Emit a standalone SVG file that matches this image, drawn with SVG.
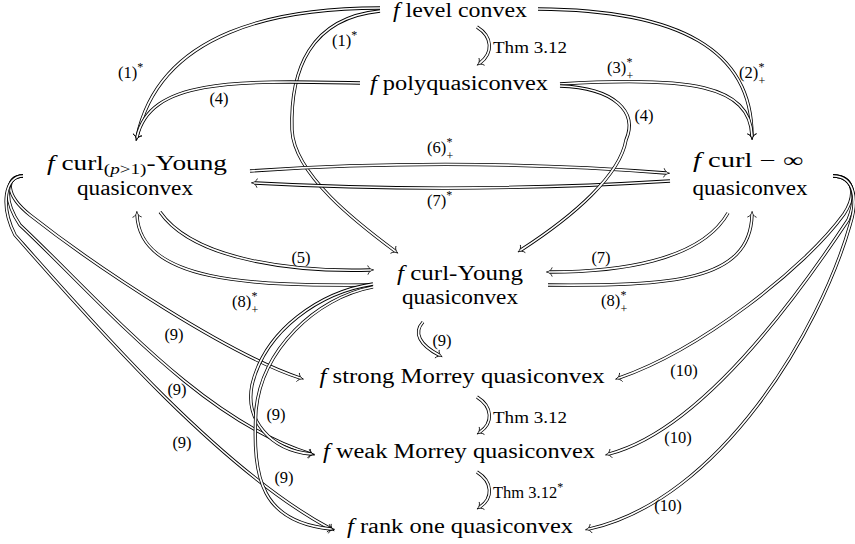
<svg xmlns="http://www.w3.org/2000/svg" xmlns:xlink="http://www.w3.org/1999/xlink" width="855" height="544" viewBox="0 0 855 544">
<style>
.n{font-family:"Liberation Serif","DejaVu Serif",serif;font-size:20px;text-anchor:middle;fill:#000}
.it{font-style:italic}
.l{font-family:"Liberation Serif","DejaVu Serif",serif;font-size:16.5px;fill:#000}
.lm{text-anchor:middle}
.s{font-family:"Liberation Serif","DejaVu Serif",serif;font-size:12px;fill:#000}
.o{fill:none;stroke:#000;stroke-width:3.3;marker-end:url(#ah)}
.i{fill:none;stroke:#fff;stroke-width:1.7}
</style>
<defs>
<marker id="ah" markerUnits="userSpaceOnUse" markerWidth="14" markerHeight="14" viewBox="-7 -7 14 14" refX="0" refY="0" orient="auto" overflow="visible">
<path d="M -2.2 -4.6 C -1.4 -2 0.8 -0.5 3.6 0 C 0.8 0.5 -1.4 2 -2.2 4.6" fill="none" stroke="#000" stroke-width="0.8"/>
</marker>
<path id="pA" d="M 380 8 C 280 8 160 30 137 137"/>
<path id="pE" d="M 360 83 C 230 80 150 80 137 137"/>
<path id="pB" d="M 380 11 C 310 18 290 70 292 130 C 294 175 360 225 395 251"/>
<path id="pC" d="M 477 27 C 493 37 493 53 480 63"/>
<path id="pD" d="M 538 9 C 680 10 752 50 752 136"/>
<path id="pF" d="M 560 84 C 690 76 750 85 752 136"/>
<path id="pG" d="M 560 86 C 615 88 638 112 626 140 C 620 175 575 215 521 250"/>
<path id="pH" d="M 250 171 Q 460 157 666 173"/>
<path id="pI7" d="M 670 181 Q 460 194 255 183"/>
<path id="pI5" d="M 160 212 C 195 262 300 272 370 270"/>
<path id="pJ" d="M 372 285 C 250 286 140 282 137 215"/>
<path id="pK" d="M 728 213 C 700 262 615 272 550 272"/>
<path id="pL" d="M 548 285 C 670 286 750 282 752 215"/>
<path id="pM" d="M 423 322 C 413 333 420 345 439 355"/>
<path id="pYW" d="M 373 284 C 320 292 265 330 252 385 C 245 420 270 450 311 454"/>
<path id="pYR" d="M 373 287 C 315 298 262 350 256 410 C 252 480 262 522 331 529"/>
<path id="pLS" d="M 23 176 C 5 176 5 195 30 215 C 100 270 230 355 300 378"/>
<path id="pLW" d="M 23 176 C 5 176 3 200 20 225 C 100 300 200 420 311 454"/>
<path id="pLR" d="M 23 176 C 5 176 0 205 15 235 C 90 320 220 470 331 529"/>
<path id="pRS" d="M 833 176 C 855 176 856 196 844 214 C 805 268 700 350 619 378"/>
<path id="pRW" d="M 833 176 C 855 176 857 198 848 220 C 795 300 700 430 609 454"/>
<path id="pRR" d="M 833 176 C 855 176 858 200 850 225 C 820 330 720 500 589 529"/>
<path id="pT1" d="M 477 397 C 493 407 493 423 480 432"/>
<path id="pT2" d="M 477 472 C 493 482 493 498 480 507"/>
</defs>
<rect width="855" height="544" fill="#fff"/>
<g id="connectors">
<use href="#pA" class="o"/><use href="#pA" class="i"/>
<use href="#pD" class="o"/><use href="#pD" class="i"/>
<use href="#pC" class="o"/><use href="#pC" class="i"/>
<use href="#pB" class="o"/><use href="#pB" class="i"/>
<use href="#pE" class="o"/><use href="#pE" class="i"/>
<use href="#pF" class="o"/><use href="#pF" class="i"/>
<use href="#pH" class="o"/><use href="#pH" class="i"/>
<use href="#pI7" class="o"/><use href="#pI7" class="i"/>
<use href="#pG" class="o"/><use href="#pG" class="i"/>
<use href="#pI5" class="o"/><use href="#pI5" class="i"/>
<use href="#pJ" class="o"/><use href="#pJ" class="i"/>
<use href="#pK" class="o"/><use href="#pK" class="i"/>
<use href="#pL" class="o"/><use href="#pL" class="i"/>
<use href="#pLS" class="o"/><use href="#pLS" class="i"/>
<use href="#pLW" class="o"/><use href="#pLW" class="i"/>
<use href="#pLR" class="o"/><use href="#pLR" class="i"/>
<use href="#pYW" class="o"/><use href="#pYW" class="i"/>
<use href="#pYR" class="o"/><use href="#pYR" class="i"/>
<use href="#pM" class="o"/><use href="#pM" class="i"/>
<use href="#pRS" class="o"/><use href="#pRS" class="i"/>
<use href="#pRW" class="o"/><use href="#pRW" class="i"/>
<use href="#pRR" class="o"/><use href="#pRR" class="i"/>
<use href="#pT1" class="o"/><use href="#pT1" class="i"/>
<use href="#pT2" class="o"/><use href="#pT2" class="i"/>
</g>
<g id="edge-labels">
<text class="l" x="118" y="78">(1)<tspan class="s" dy="-7">*</tspan></text>
<text class="l" x="332" y="46">(1)<tspan class="s" dy="-7">*</tspan></text>
<text class="l lm" x="219" y="104">(4)</text>
<text class="l" x="493" y="53" textLength="74" lengthAdjust="spacingAndGlyphs">Thm 3.12</text>
<text class="l" x="607" y="73">(3)</text><text class="s" x="626.5" y="66">*</text><text class="s" x="626.5" y="79.5">+</text>
<text class="l" x="739" y="78">(2)</text><text class="s" x="758.5" y="71">*</text><text class="s" x="758.5" y="84.5">+</text>
<text class="l lm" x="644" y="121">(4)</text>
<text class="l" x="427" y="153">(6)</text><text class="s" x="446.5" y="146">*</text><text class="s" x="446.5" y="159.5">+</text>
<text class="l" x="427" y="206">(7)<tspan class="s" dy="-7">*</tspan></text>
<text class="l lm" x="301" y="263">(5)</text>
<text class="l" x="232" y="307">(8)</text><text class="s" x="251.5" y="300">*</text><text class="s" x="251.5" y="313.5">+</text>
<text class="l lm" x="601" y="263">(7)</text>
<text class="l" x="601" y="306">(8)</text><text class="s" x="620.5" y="299">*</text><text class="s" x="620.5" y="312.5">+</text>
<text class="l lm" x="442" y="346">(9)</text>
<text class="l lm" x="174" y="340">(9)</text>
<text class="l lm" x="177" y="395">(9)</text>
<text class="l lm" x="182" y="448">(9)</text>
<text class="l lm" x="276" y="420">(9)</text>
<text class="l lm" x="284" y="483">(9)</text>
<text class="l lm" x="684" y="376">(10)</text>
<text class="l lm" x="678" y="443">(10)</text>
<text class="l lm" x="668" y="511">(10)</text>
<text class="l" x="493" y="423" textLength="74" lengthAdjust="spacingAndGlyphs">Thm 3.12</text>
<text class="l" x="493" y="498">Thm 3.12<tspan class="s" dy="-7">*</tspan></text>
</g>
<g id="n-level">
<text class="n" x="460" y="17" textLength="134" lengthAdjust="spacingAndGlyphs"><tspan class="it">f</tspan> level convex</text>
</g>
<g id="n-poly">
<text class="n" x="459" y="90" textLength="178" lengthAdjust="spacingAndGlyphs"><tspan class="it">f</tspan> polyquasiconvex</text>
</g>
<g id="n-curlp">
<text class="n" x="137" y="170" textLength="180" lengthAdjust="spacingAndGlyphs"><tspan class="it">f</tspan> curl<tspan font-size="14" dy="4">(<tspan class="it">p</tspan>&gt;1)</tspan><tspan dy="-4">-Young</tspan></text>
<text class="n" x="135" y="195" textLength="116" lengthAdjust="spacingAndGlyphs">quasiconvex</text>
</g>
<g id="n-curlinf">
<text class="n" x="748" y="167" textLength="110" lengthAdjust="spacingAndGlyphs"><tspan class="it">f</tspan> curl − ∞</text>
<text class="n" x="750" y="195" textLength="115" lengthAdjust="spacingAndGlyphs">quasiconvex</text>
</g>
<g id="n-curlyoung">
<text class="n" x="460" y="280" textLength="126" lengthAdjust="spacingAndGlyphs"><tspan class="it">f</tspan> curl-Young</text>
<text class="n" x="460" y="304" textLength="116" lengthAdjust="spacingAndGlyphs">quasiconvex</text>
</g>
<g id="n-strong">
<text class="n" x="462" y="383" textLength="285" lengthAdjust="spacingAndGlyphs"><tspan class="it">f</tspan> strong Morrey quasiconvex</text>
</g>
<g id="n-weak">
<text class="n" x="459" y="458" textLength="272" lengthAdjust="spacingAndGlyphs"><tspan class="it">f</tspan> weak Morrey quasiconvex</text>
</g>
<g id="n-rank">
<text class="n" x="460" y="533" textLength="226" lengthAdjust="spacingAndGlyphs"><tspan class="it">f</tspan> rank one quasiconvex</text>
</g>
</svg>
